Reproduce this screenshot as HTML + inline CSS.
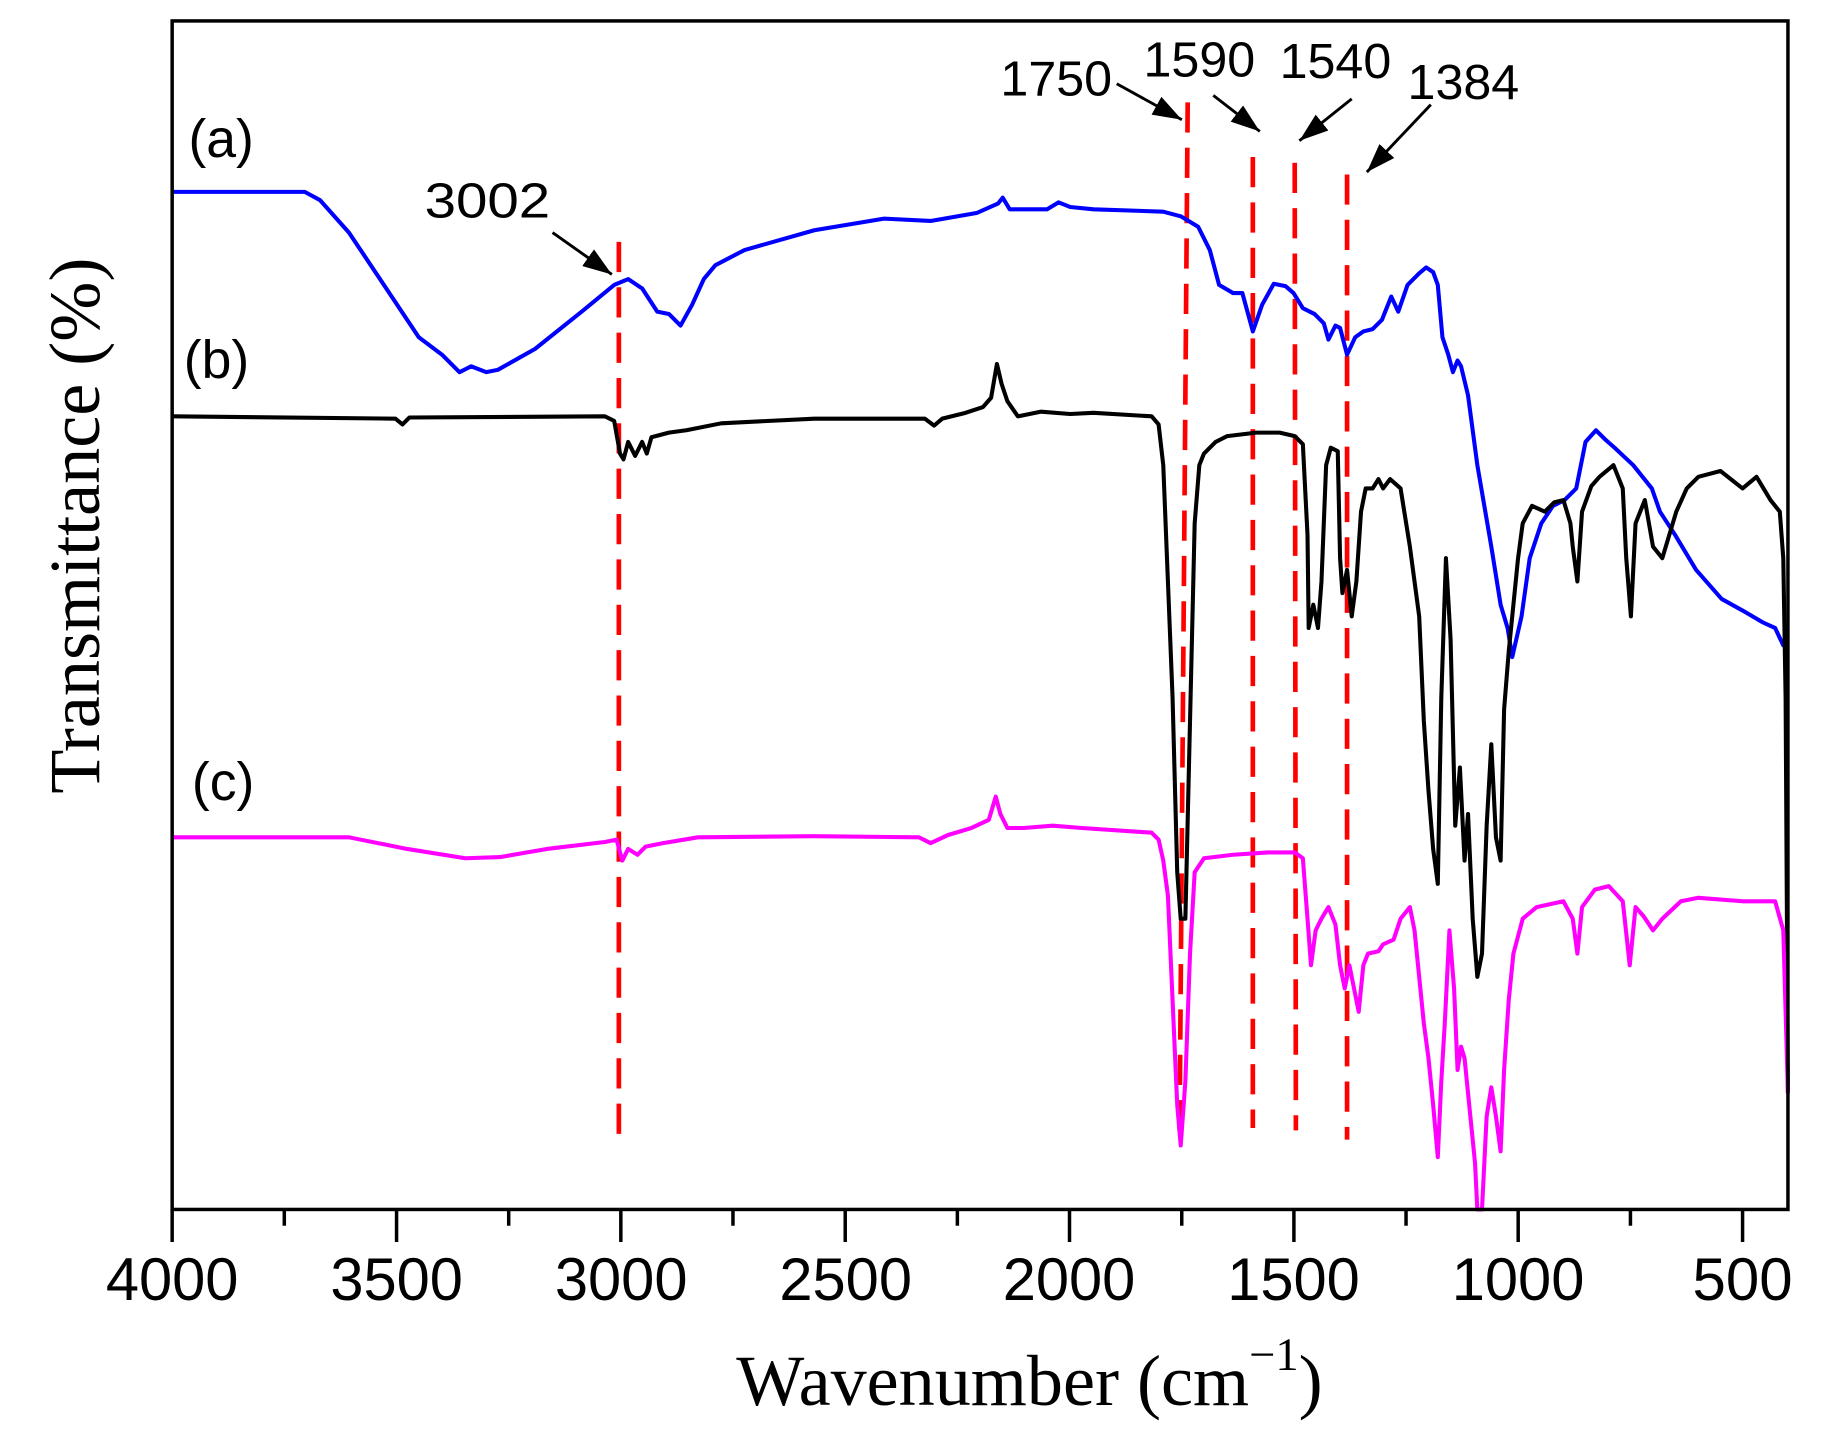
<!DOCTYPE html>
<html><head><meta charset="utf-8"><style>
html,body{margin:0;padding:0;background:#fff;}
svg{display:block;}
text{font-family:"Liberation Sans",Arial,sans-serif;fill:#000;}
.serif{font-family:"Liberation Serif","Times New Roman",serif;}
</style></head><body>
<svg width="1824" height="1456" viewBox="0 0 1568 1252" preserveAspectRatio="none" xmlns="http://www.w3.org/2000/svg">
<defs><marker id="ah" markerWidth="10" markerHeight="7" refX="10" refY="3.5" orient="auto" markerUnits="strokeWidth"><path d="M0,0 L10,3.5 L0,7 z" fill="#000"/></marker></defs>
<rect x="0" y="0" width="1568" height="1252" fill="#fff"/>
<g stroke="#f00" stroke-width="4" stroke-dasharray="26,13" fill="none">
<line x1="532" y1="208" x2="532" y2="975"/>
<line x1="1021" y1="88" x2="1014" y2="975"/>
<line x1="1077" y1="135" x2="1077" y2="970"/>
<line x1="1113" y1="140" x2="1114" y2="972"/>
<line x1="1158" y1="150" x2="1158" y2="980"/>
</g>
<polyline fill="none" stroke="#0000ff" stroke-width="3.5" stroke-linejoin="round" points="148,165 262,165 275,172 300,200 330,245 360,290 380,305 395,320 405,315 418,320 428,318 460,300 500,268 528,245 540,240 552,248 565,268 575,270 585,280 595,262 605,240 615,228 640,215 700,198 760,188 800,190 840,183 858,175 862,170 868,180 900,180 910,174 920,178 940,180 1000,182 1015,186 1030,195 1040,215 1048,245 1060,252 1068,252 1077,285 1085,262 1095,244 1105,246 1112,252 1120,265 1130,270 1138,278 1142,292 1148,280 1152,282 1158,305 1165,290 1172,285 1180,283 1188,275 1196,255 1202,268 1210,245 1220,235 1226,230 1232,234 1236,245 1240,290 1245,305 1249,320 1253,310 1256,315 1262,340 1270,400 1282,470 1290,520 1296,540 1300,565 1308,530 1315,480 1325,450 1335,435 1345,430 1355,420 1363,380 1372,370 1380,378 1388,385 1404,400 1420,420 1427,440 1440,460 1458,490 1480,515 1498,525 1515,535 1526,540 1533,555 1537,557"/>
<polyline fill="none" stroke="#000" stroke-width="3.5" stroke-linejoin="round" points="148,358 340,360 346,365 352,359 520,358 528,362 533,390 536,395 540,380 546,392 552,380 556,390 560,376 575,372 590,370 620,364 700,360 795,360 803,366 810,360 830,355 845,350 852,342 857,313 861,330 866,345 875,358 895,354 920,356 940,355 990,358 996,365 1000,400 1004,500 1008,600 1012,750 1015,790 1019,790 1023,620 1027,450 1031,400 1035,390 1045,380 1055,375 1080,372 1100,372 1113,375 1120,382 1124,460 1125,540 1129,520 1133,540 1136,500 1140,400 1144,385 1150,388 1152,480 1154,510 1158,490 1162,530 1166,500 1170,440 1174,420 1180,420 1185,412 1189,420 1195,412 1204,420 1212,470 1220,530 1224,620 1228,680 1232,730 1236,760 1239,600 1243,480 1247,550 1251,710 1255,660 1259,740 1262,700 1266,790 1270,840 1274,820 1278,710 1282,640 1286,720 1290,740 1293,610 1297,560 1301,520 1305,480 1309,450 1317,435 1328,440 1336,432 1344,430 1350,450 1352,470 1356,500 1360,440 1368,418 1375,410 1387,400 1395,420 1398,480 1402,530 1406,450 1414,430 1421,470 1429,480 1441,440 1450,420 1460,410 1479,405 1498,420 1510,410 1522,430 1530,440 1533,480 1535,600 1537,940"/>
<polyline fill="none" stroke="#ff00ff" stroke-width="3.5" stroke-linejoin="round" points="148,720 300,720 350,730 400,738 430,737 470,730 520,724 530,722 535,740 540,730 548,735 555,728 570,725 600,720 700,719 790,720 800,725 815,718 835,712 850,705 856,685 860,700 866,712 880,712 905,710 930,712 990,716 996,722 1000,740 1004,770 1008,860 1012,950 1015,985 1019,930 1023,820 1027,750 1035,738 1060,735 1090,733 1113,733 1120,738 1124,790 1127,830 1131,800 1136,790 1142,780 1148,795 1152,830 1156,850 1160,830 1164,850 1168,870 1172,830 1176,820 1185,818 1189,812 1198,808 1204,790 1212,780 1216,800 1220,840 1224,880 1228,910 1232,950 1236,995 1239,930 1242,880 1246,800 1250,850 1253,920 1256,900 1259,910 1262,940 1264,960 1268,1000 1270,1040 1274,1040 1278,960 1282,935 1286,960 1290,990 1293,920 1297,860 1301,820 1309,790 1321,780 1344,775 1352,790 1356,820 1360,780 1371,765 1383,762 1395,775 1401,830 1406,780 1413,788 1421,800 1429,790 1445,775 1460,772 1498,775 1526,775 1533,800 1537,940"/>
<rect x="148" y="18" width="1389" height="1022" fill="none" stroke="#000" stroke-width="3"/>
<g stroke="#000" stroke-width="3">
<line x1="148" y1="1040" x2="148" y2="1068"/><line x1="340.9" y1="1040" x2="340.9" y2="1068"/><line x1="533.7" y1="1040" x2="533.7" y2="1068"/><line x1="726.6" y1="1040" x2="726.6" y2="1068"/><line x1="919.4" y1="1040" x2="919.4" y2="1068"/><line x1="1112.3" y1="1040" x2="1112.3" y2="1068"/><line x1="1305.1" y1="1040" x2="1305.1" y2="1068"/><line x1="1498" y1="1040" x2="1498" y2="1068"/>
<line x1="244.4" y1="1040" x2="244.4" y2="1054"/><line x1="437.3" y1="1040" x2="437.3" y2="1054"/><line x1="630.1" y1="1040" x2="630.1" y2="1054"/><line x1="823" y1="1040" x2="823" y2="1054"/><line x1="1015.9" y1="1040" x2="1015.9" y2="1054"/><line x1="1208.7" y1="1040" x2="1208.7" y2="1054"/><line x1="1401.6" y1="1040" x2="1401.6" y2="1054"/>
</g>
<g font-size="52" text-anchor="middle" lengthAdjust="spacingAndGlyphs">
<text x="148" y="1118" textLength="114" lengthAdjust="spacingAndGlyphs">4000</text><text x="341" y="1118" textLength="114" lengthAdjust="spacingAndGlyphs">3500</text><text x="534" y="1118" textLength="114" lengthAdjust="spacingAndGlyphs">3000</text><text x="727" y="1118" textLength="114" lengthAdjust="spacingAndGlyphs">2500</text><text x="919" y="1118" textLength="114" lengthAdjust="spacingAndGlyphs">2000</text><text x="1112" y="1118" textLength="114" lengthAdjust="spacingAndGlyphs">1500</text><text x="1305" y="1118" textLength="114" lengthAdjust="spacingAndGlyphs">1000</text><text x="1498" y="1118" textLength="86" lengthAdjust="spacingAndGlyphs">500</text>
</g>
<text class="serif" x="885" y="1208" font-size="62" text-anchor="middle">Wavenumber (cm<tspan dy="-30" font-size="40">−1</tspan><tspan dy="30">)</tspan></text>
<text class="serif" x="0" y="0" font-size="62" text-anchor="middle" transform="translate(85,452) rotate(-90)">Transmittance (%)</text>
<g font-size="46">
<text x="162" y="135">(a)</text><text x="158" y="325">(b)</text><text x="165" y="688">(c)</text>
</g>
<g font-size="42">
<text x="365" y="187" textLength="108" lengthAdjust="spacingAndGlyphs">3002</text>
<text x="860" y="82" textLength="96" lengthAdjust="spacingAndGlyphs">1750</text><text x="983" y="66" textLength="96" lengthAdjust="spacingAndGlyphs">1590</text><text x="1100" y="67" textLength="96" lengthAdjust="spacingAndGlyphs">1540</text><text x="1210" y="85" textLength="96" lengthAdjust="spacingAndGlyphs">1384</text>
</g>
<g stroke="#000" stroke-width="2.5" marker-end="url(#ah)">
<line x1="475" y1="200" x2="526" y2="236"/>
<line x1="960" y1="72" x2="1016" y2="103"/>
<line x1="1043" y1="82" x2="1083" y2="113"/>
<line x1="1162" y1="85" x2="1117" y2="121"/>
<line x1="1230" y1="90" x2="1175" y2="148"/>
</g>
</svg>
</body></html>
